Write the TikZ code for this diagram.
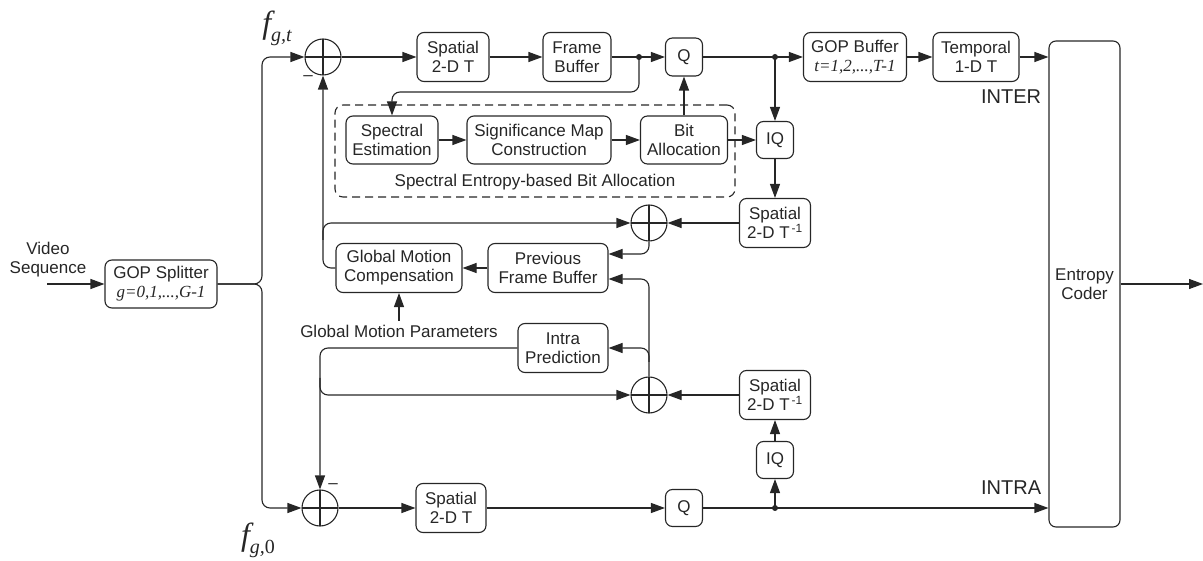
\documentclass[tikz,border=0pt]{standalone}
\usepackage{fontspec}
\setmainfont{Liberation Sans}
\newfontfamily\tmsfont{Liberation Serif}
\usetikzlibrary{arrows.meta}

\begin{document}
\begin{tikzpicture}[x=1pt, y=-1pt, line width=1.1pt, color=black!85,
    font=\fontsize{17}{19}\selectfont,
    blk/.style={draw, rounded corners=7pt, align=center, inner sep=1pt},
    sumc/.style={draw, circle, minimum size=36pt, inner sep=0pt,
      path picture={\draw (path picture bounding box.north) -- (path picture bounding box.south)
        (path picture bounding box.west) -- (path picture bounding box.east);}},
    arr/.style={-{Triangle[length=14pt,width=10pt]}},
    big/.style={font=\fontsize{20}{22}\selectfont},
    flab/.style={font=\tmsfont\itshape\fontsize{32}{34}\selectfont}]
    \useasboundingbox (0,0) rectangle (1203,561);
    % input and splitter
    \node[align=center] (vid) at (48,260) {Video\\Sequence};
    \coordinate (vin) at (47,284);
    \node[blk, minimum width=112pt, minimum height=48pt] (split) at (161,284) {GOP Splitter\\{\tmsfont\itshape g=0,1,...,G-1}};
    \draw[arr] (vin) -- (split.west);
    \coordinate (fork) at (262,284);
    % adders
    \node[sumc] (sumT) at (323,57) {};
    \node[sumc] (sumB) at (320,508) {};
    \node[sumc] (sumU) at (649,223) {};
    \node[sumc] (sumL) at (649,395) {};
    \node (mT) at (308,78) {--};
    \node (mB) at (333,486) {--};
    \node[flab] (fgt) at (277,28) {f\raisebox{-8pt}{\fontsize{20}{22}\selectfont g,t}};
    \node[flab] (fg0) at (258,540) {f\raisebox{-8pt}{\fontsize{20}{22}\selectfont g,\upshape 0}};
    % top row
    \node[blk, minimum width=72pt, minimum height=49pt] (spT) at (453,57) {Spatial\\2-D T};
    \node[blk, minimum width=68pt, minimum height=49pt] (fb) at (577,57) {Frame\\Buffer};
    \node[blk, minimum width=37pt, minimum height=38pt] (qT) at (684,57) {Q};
    \node[blk, minimum width=103pt, minimum height=49pt] (gopb) at (855,57) {GOP Buffer\\{\tmsfont\itshape t=1,2,...,T-1}};
    \node[blk, minimum width=86pt, minimum height=49pt] (tmp) at (976,57) {Temporal\\1-D T};
    \node[blk, minimum width=71pt, minimum height=486pt] (ent) at (1084.5,284) {Entropy\\Coder};
    \node[big, anchor=east] (inter) at (1045,97) {INTER};
    \node[big, anchor=east] (intra_lab) at (1045,488) {INTRA};
    % bit allocation block
    \node[draw, dash pattern=on 8pt off 5pt, rounded corners=8pt, minimum width=400pt, minimum height=92pt] (sebox) at (535,151) {};
    \node[blk, minimum width=92pt, minimum height=48pt] (specE) at (392,140) {Spectral\\Estimation};
    \node[blk, minimum width=144pt, minimum height=48pt] (sig) at (539,140) {Significance Map\\Construction};
    \node[blk, minimum width=87pt, minimum height=48pt] (bit) at (684,140) {Bit\\Allocation};
    \node (selab) at (535,182) {Spectral Entropy-based Bit Allocation};
    \node[blk, minimum width=37pt, minimum height=37pt] (iqT) at (775,140) {IQ};
    % reconstruction loop
    \node[blk, minimum width=71pt, minimum height=49pt] (spiU) at (775,223) {Spatial\\2-D T\textsuperscript{\,-1}};
    \node[blk, minimum width=126pt, minimum height=49pt] (gmc) at (399,268) {Global Motion\\Compensation};
    \node[blk, minimum width=120pt, minimum height=49pt] (pfb) at (548,268) {Previous\\Frame Buffer};
    \node (gmp) at (399,331) {Global Motion Parameters};
    \node[blk, minimum width=90pt, minimum height=49pt] (intra) at (563,348) {Intra\\Prediction};
    \node[blk, minimum width=71pt, minimum height=49pt] (spiL) at (775,395) {Spatial\\2-D T\textsuperscript{\,-1}};
    \node[blk, minimum width=37pt, minimum height=37pt] (iqL) at (775,460) {IQ};
    % bottom row
    \node[blk, minimum width=70pt, minimum height=49pt] (spB) at (451,508) {Spatial\\2-D T};
    \node[blk, minimum width=37pt, minimum height=37pt] (qB) at (684,508) {Q};
    \coordinate (dT) at (639,57);
    \coordinate (dQ) at (775,57);
    \coordinate (dB) at (775,508);
    \coordinate (out) at (1203,284);
    % connectors, top
    \draw[arr, rounded corners=8pt] (split.east) -- (fork) |- (sumT.west);
    \draw[arr, rounded corners=8pt] (split.east) -- (fork) |- (sumB.west);
    \draw[arr] (sumT) -- (spT);
    \draw[arr] (spT) -- (fb);
    \draw[arr] (fb) -- (qT);
    \draw[arr, rounded corners=8pt] (dT) -- (639,92) -| (specE.north);
    \draw[arr] (qT) -- (gopb);
    \draw[arr] (dQ) -- (iqT);
    \draw[arr] (gopb) -- (tmp);
    \draw[arr] (tmp.east) -- (tmp.east -| ent.west);
    \draw[arr] (specE) -- (sig);
    \draw[arr] (sig) -- (bit);
    \draw[arr] (bit) -- (qT);
    \draw[arr] (bit) -- (iqT);
    \draw[arr] (iqT) -- (spiU);
    % connectors, loop
    \draw[arr] (spiU) -- (sumU);
    \draw[arr, rounded corners=8pt] (sumU.south) |- ([yshift=14pt]pfb.east);
    \draw[arr] (pfb) -- (gmc);
    \draw[arr, rounded corners=8pt] (gmc.west) -| (sumT.south);
    \draw[arr, rounded corners=8pt] (323,240) |- (sumU.west);
    \draw[arr] (gmp) -- (gmc);
    \draw[arr] (spiL) -- (sumL);
    \draw[arr, rounded corners=8pt] (sumL.north) |- ([yshift=-11pt]pfb.east);
    \draw[arr, rounded corners=8pt] (649,362) |- (intra.east);
    \draw[arr, rounded corners=8pt] (intra.west) -| (sumB.north);
    \draw[arr, rounded corners=8pt] (320,378) |- (sumL.west);
    % connectors, bottom
    \draw[arr] (sumB) -- (spB);
    \draw[arr] (spB) -- (qB);
    \draw[arr] (qB.east) -- (qB.east -| ent.west);
    \draw[arr] (dB) -- (iqL);
    \draw[arr] (iqL) -- (spiL);
    \draw[arr] (ent.east) -- (out);
    \fill (dT) circle (3pt) (dQ) circle (3pt) (dB) circle (3pt);
\end{tikzpicture}
\end{document}
